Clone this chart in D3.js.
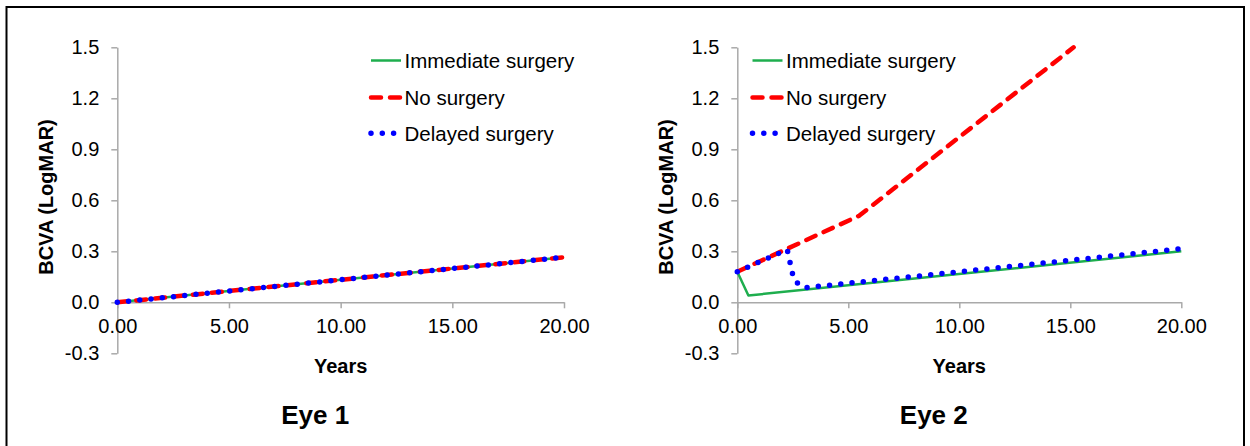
<!DOCTYPE html>
<html>
<head>
<meta charset="utf-8">
<script src="https://cdn.jsdelivr.net/npm/d3@7"></script>
<style>
  html, body { margin: 0; padding: 0; background: #fff; }
  svg { display: block; font-family: "Liberation Sans", Arial, sans-serif; }
</style>
</head>
<body>
<svg id="chart" width="1250" height="446"></svg>
<script>
// Tick values
const xTicks = [0, 5, 10, 15, 20];
const yTicks = [-0.3, 0, 0.3, 0.6, 0.9, 1.2, 1.5];

// Series names
const seriesNames = ['Immediate surgery', 'No surgery', 'Delayed surgery'];

// Eye 1 - all three scenarios overlap
const eye1Years = [0, 20];
const eye1Immediate = [0, 0.265];
const eye1None = [0, 0.265];
const eye1Delayed = [0, 0.265];

// Eye 2
const eye2ImmediateYears = [0, 0.5, 20];
const eye2Immediate = [0.18, 0.04, 0.30];
const eye2NoneYears = [0, 5.5, 15.15];
const eye2None = [0.18, 0.51, 1.5];
const eye2DelayedYears = [0, 2.25, 2.55, 3.0, 20];
const eye2Delayed = [0.18, 0.31, 0.13, 0.085, 0.315];

const panelTitles = ['Eye 1', 'Eye 2'];

const svg = d3.select('#chart');

// outer frame
svg.append('rect')
  .attr('x', 6.5).attr('y', 7)
  .attr('width', 1237.5).attr('height', 470)
  .attr('fill', 'none')
  .attr('stroke', '#000')
  .attr('stroke-width', 2);

const styles = [
  { color: '#1eae4e', width: 2.5, dash: null, cap: 'butt' },
  { color: '#ff0000', width: 4.5, dash: '10 9', cap: 'round' },
  { color: '#0000ff', width: 5.5, dash: '0 11.3', cap: 'round' }
];

const zip = (xs, ys) => xs.map((x, i) => ({ x: x, y: ys[i] }));

const panels = [
  {
    xRange: [117.3, 564],
    legendX: 371,
    series: [
      zip(eye1Years, eye1Immediate),
      zip(eye1Years, eye1None),
      zip(eye1Years, eye1Delayed)
    ]
  },
  {
    xRange: [737.3, 1181.3],
    legendX: 752.5,
    series: [
      zip(eye2ImmediateYears, eye2Immediate),
      zip(eye2NoneYears, eye2None),
      zip(eye2DelayedYears, eye2Delayed)
    ]
  }
];

const axisColor = '#a9a9a9';

panels.forEach((p, pi) => {
  const x = d3.scaleLinear().domain([0, 20]).range(p.xRange);
  const y = d3.scaleLinear().domain([-0.3, 1.5]).range([353.3, 47.3]);

  // Y axis
  const gy = svg.append('g')
    .attr('transform', `translate(${p.xRange[0]},0)`)
    .call(d3.axisLeft(y).tickValues(yTicks).tickSize(6).tickSizeOuter(0)
      .tickPadding(12).tickFormat((d) => d.toFixed(1)));

  // X axis at y = 0
  const gx = svg.append('g')
    .attr('transform', `translate(0,${y(0)})`)
    .call(d3.axisBottom(x).tickValues(xTicks).tickSize(6).tickSizeOuter(0)
      .tickPadding(10.5).tickFormat((d) => d.toFixed(2)));

  [gx, gy].forEach((g) => {
    g.select('.domain').attr('stroke', axisColor).attr('stroke-width', 1.5);
    g.selectAll('.tick line').attr('stroke', axisColor).attr('stroke-width', 1.5);
    g.selectAll('.tick text')
      .attr('fill', '#000')
      .style('font-size', '20px')
      .style('font-family', '"Liberation Sans", Arial, sans-serif');
  });

  // clip to plot area
  const clipId = 'clip' + pi;
  svg.append('clipPath').attr('id', clipId)
    .append('rect')
    .attr('x', p.xRange[0] - 5).attr('y', y(1.5) - 5)
    .attr('width', p.xRange[1] - p.xRange[0] + 10)
    .attr('height', y(-0.3) - y(1.5) + 10);

  const line = d3.line().x((d) => x(d.x)).y((d) => y(d.y));

  const gLines = svg.append('g').attr('clip-path', `url(#${clipId})`);
  p.series.forEach((s, i) => {
    const st = styles[i];
    gLines.append('path')
      .datum(s)
      .attr('d', line)
      .attr('fill', 'none')
      .attr('stroke', st.color)
      .attr('stroke-width', st.width)
      .attr('stroke-linecap', st.cap)
      .attr('stroke-linejoin', 'round')
      .attr('stroke-dasharray', st.dash);
  });

  // Legend
  const legendRows = [60.5, 97.5, 133.3];
  seriesNames.forEach((name, i) => {
    const st = styles[i];
    const lx = p.legendX;
    const ly = legendRows[i];
    svg.append('line')
      .attr('x1', lx).attr('x2', lx + 30)
      .attr('y1', ly).attr('y2', ly)
      .attr('stroke', st.color)
      .attr('stroke-width', st.width)
      .attr('stroke-linecap', st.cap)
      .attr('stroke-dasharray', st.dash);
    svg.append('text')
      .attr('x', lx + 33.5)
      .attr('y', ly)
      .attr('dy', '0.36em')
      .style('font-size', '20.5px')
      .text(name);
  });

  const cx = (p.xRange[0] + p.xRange[1]) / 2;

  // X title
  svg.append('text')
    .attr('x', cx).attr('y', 373.3)
    .attr('text-anchor', 'middle')
    .style('font-size', '20px').style('font-weight', 'bold')
    .text('Years');

  // Y title
  svg.append('text')
    .attr('transform', `translate(${p.xRange[0] - 64},197) rotate(-90)`)
    .attr('text-anchor', 'middle')
    .style('font-size', '20px').style('font-weight', 'bold')
    .text('BCVA (LogMAR)');

  // Panel title
  svg.append('text')
    .attr('x', cx - 25.5).attr('y', 424)
    .attr('text-anchor', 'middle')
    .style('font-size', '26px').style('font-weight', 'bold')
    .text(panelTitles[pi]);
});
</script>
</body>
</html>
